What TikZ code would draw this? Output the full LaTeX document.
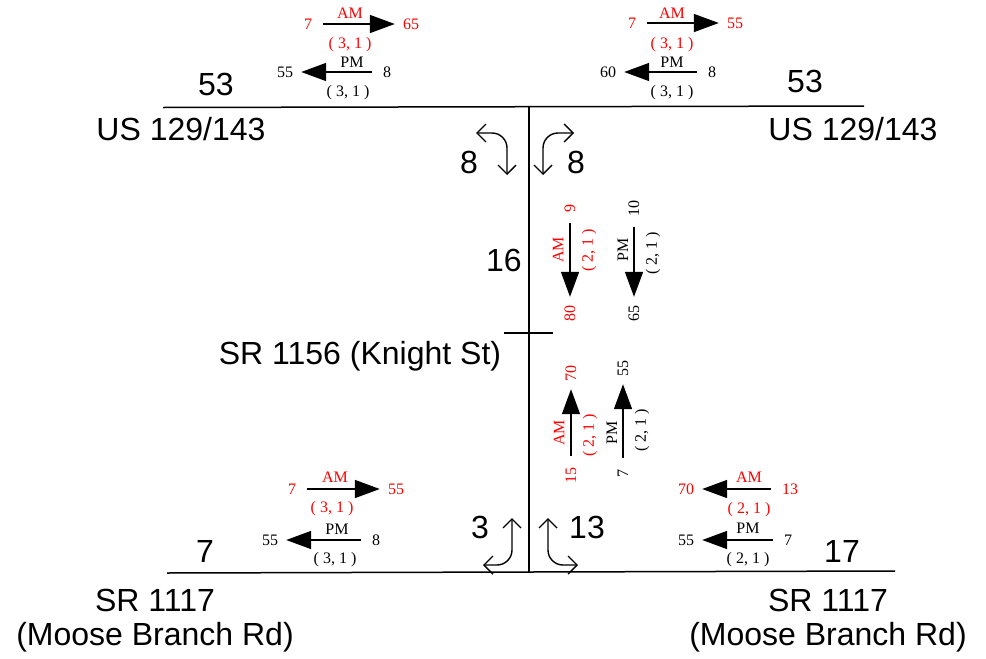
\documentclass[tikz,border=0pt]{standalone}
\usepackage{fontspec}
\setmainfont{Liberation Serif}
\setsansfont{Liberation Sans}
\usetikzlibrary{arrows.meta}
\definecolor{cAM}{HTML}{FF0000}
\definecolor{cPM}{HTML}{000000}
\tikzset{
  road/.style={line width=1.5pt, line cap=butt},
  bigtext/.style={font=\sffamily\fontsize{32}{36}\selectfont, inner sep=0pt},
  vol/.style={font=\fontsize{16}{18}\selectfont, inner sep=0pt, text=#1},
  vol/.default=cPM,
  flow/.style={-{Triangle[length=25pt, width=18pt]}, line width=1.6pt,
    shorten <=11pt, shorten >=8pt},
  turn/.style={{Straight Barb[length=9pt, width=18pt, line width=1.4pt]}-{Straight Barb[length=9pt, width=18pt, line width=1.4pt]},
    line width=1.4pt, rounded corners=15pt},
}

\begin{document}
\begin{tikzpicture}[x=1pt, y=-1pt]
  \useasboundingbox (0,0) rectangle (986,659);

  % Road ends
  \coordinate (usW) at (163,107.5);
  \coordinate (usE) at (864,106);
  \coordinate (srW) at (167,573);
  \coordinate (srE) at (895,571);
  \coordinate (mainN) at (529,107);
  \coordinate (mainS) at (529,572);
  \coordinate (knW) at (504,333);
  \coordinate (knE) at (553,333);

  % Roads
  \draw[road] (usW) -- (usE);
  \draw[road] (srW) -- (srE);
  \draw[line width=1.2pt] (mainN) -- (mainS);
  \draw[line width=1.2pt] (knW) -- (knE);

  % Road names and totals
  \node[bigtext] (usWname) at (181,129) {US 129/143};
  \node[bigtext] (usEname) at (853,129) {US 129/143};
  \node[bigtext] (usWtot) at (216,84) {53};
  \node[bigtext] (usEtot) at (805,81) {53};
  \node[bigtext] (mainTot) at (504,260) {16};
  \node[bigtext] (knName) at (360,356) {SR 1156 (Knight St)};
  \node[bigtext] (srWtot) at (205,551) {7};
  \node[bigtext] (srEtot) at (842,551) {17};
  \node[bigtext] (srWname) at (155,600) {SR 1117};
  \node[bigtext] (srWname2) at (155,637) {(Moose Branch Rd)};
  \node[bigtext] (srEname) at (828,600) {SR 1117};
  \node[bigtext] (srEname2) at (828,637) {(Moose Branch Rd)};

  % Turning volumes
  \node[bigtext] (turnNW) at (469,162) {8};
  \node[bigtext] (turnNE) at (576,162) {8};
  \node[bigtext] (turnSW) at (480,527) {3};
  \node[bigtext] (turnSE) at (587,527) {13};
  \draw[turn] (476,133) -- (507,133) -- (507,175);
  \draw[turn] (574,133) -- (543,133) -- (543,175);
  \draw[turn] (483,565) -- (512,565) -- (512,518);
  \draw[turn] (578,565) -- (548,565) -- (548,518);

  % US 129/143 west -- AM and PM
  \node[vol=cAM] (tlAMin) at (308,24) {7};
  \node[vol=cAM] (tlAMout) at (411,24) {65};
  \node[vol=cAM] (tlAM) at (350,13) {AM};
  \node[vol=cAM] (tlAMlos) at (350,45) {( 3, 1 )};
  \draw[flow] (tlAMin) -- (tlAMout);
  \node[vol] (tlPMin) at (387,72) {8};
  \node[vol] (tlPMout) at (285,72) {55};
  \node[vol] (tlPM) at (352,62) {PM};
  \node[vol] (tlPMlos) at (348,93) {( 3, 1 )};
  \draw[flow] (tlPMin) -- (tlPMout);

  % US 129/143 east -- AM and PM
  \node[vol=cAM] (trAMin) at (632,23) {7};
  \node[vol=cAM] (trAMout) at (735,23) {55};
  \node[vol=cAM] (trAM) at (672,13) {AM};
  \node[vol=cAM] (trAMlos) at (672,45) {( 3, 1 )};
  \draw[flow] (trAMin) -- (trAMout);
  \node[vol] (trPMin) at (712,72) {8};
  \node[vol] (trPMout) at (608,72) {60};
  \node[vol] (trPM) at (672,62) {PM};
  \node[vol] (trPMlos) at (672,93) {( 3, 1 )};
  \draw[flow] (trPMin) -- (trPMout);

  % Southbound between US 129/143 and SR 1156
  \node[vol=cAM, rotate=90] (sbAMin) at (570,208) {9};
  \node[vol=cAM, rotate=90] (sbAMout) at (570,313) {80};
  \node[vol=cAM, rotate=90] (sbAM) at (558,250) {AM};
  \node[vol=cAM, rotate=90] (sbAMlos) at (589,250) {( 2, 1 )};
  \draw[flow] (sbAMin) -- (sbAMout);
  \node[vol, rotate=90] (sbPMin) at (634,208) {10};
  \node[vol, rotate=90] (sbPMout) at (634,313) {65};
  \node[vol, rotate=90] (sbPM) at (623,250) {PM};
  \node[vol, rotate=90] (sbPMlos) at (653,253) {( 2, 1 )};
  \draw[flow] (sbPMin) -- (sbPMout);

  % Northbound between SR 1156 and SR 1117
  \node[vol=cAM, rotate=90] (nbAMin) at (571,475) {15};
  \node[vol=cAM, rotate=90] (nbAMout) at (571,373) {70};
  \node[vol=cAM, rotate=90] (nbAM) at (559,433) {AM};
  \node[vol=cAM, rotate=90] (nbAMlos) at (590,435) {( 2, 1 )};
  \draw[flow] (nbAMin) -- (nbAMout);
  \node[vol, rotate=90] (nbPMin) at (623,473) {7};
  \node[vol, rotate=90] (nbPMout) at (623,368) {55};
  \node[vol, rotate=90] (nbPM) at (612,433) {PM};
  \node[vol, rotate=90] (nbPMlos) at (642,430) {( 2, 1 )};
  \draw[flow] (nbPMin) -- (nbPMout);

  % SR 1117 west -- AM and PM
  \node[vol=cAM] (blAMin) at (292,489) {7};
  \node[vol=cAM] (blAMout) at (396,489) {55};
  \node[vol=cAM] (blAM) at (335,477) {AM};
  \node[vol=cAM] (blAMlos) at (332,509) {( 3, 1 )};
  \draw[flow] (blAMin) -- (blAMout);
  \node[vol] (blPMin) at (376,540) {8};
  \node[vol] (blPMout) at (270,540) {55};
  \node[vol] (blPM) at (337,529) {PM};
  \node[vol] (blPMlos) at (335,560) {( 3, 1 )};
  \draw[flow] (blPMin) -- (blPMout);

  % SR 1117 east -- AM and PM
  \node[vol=cAM] (brAMin) at (790,489) {13};
  \node[vol=cAM] (brAMout) at (686,489) {70};
  \node[vol=cAM] (brAM) at (749,477) {AM};
  \node[vol=cAM] (brAMlos) at (749,510) {( 2, 1 )};
  \draw[flow] (brAMin) -- (brAMout);
  \node[vol] (brPMin) at (788,540) {7};
  \node[vol] (brPMout) at (686,540) {55};
  \node[vol] (brPM) at (748,528) {PM};
  \node[vol] (brPMlos) at (748,560) {( 2, 1 )};
  \draw[flow] (brPMin) -- (brPMout);

\end{tikzpicture}
\end{document}
